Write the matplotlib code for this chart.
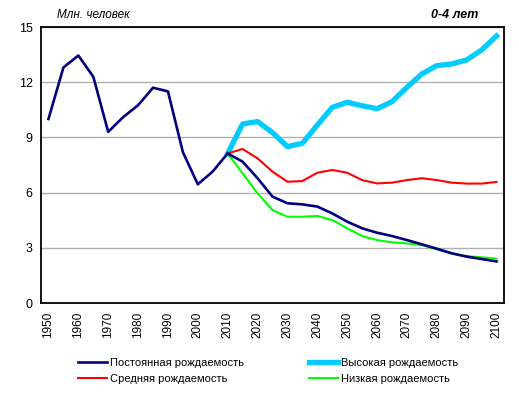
import numpy as np
import matplotlib
matplotlib.use("Agg")
import matplotlib.pyplot as plt

plt.rcParams['font.family'] = ['Liberation Sans', 'DejaVu Sans']

# годы
years_hist = list(range(1950, 2011, 5))
years_proj = list(range(2010, 2101, 5))

# млн. человек, 0-4 лет
hist = [10.0, 12.8, 13.45, 12.3, 9.3, 10.1, 10.75, 11.7, 11.5, 8.2, 6.45, 7.15, 8.13]
const = [8.13, 7.68, 6.78, 5.78, 5.42, 5.36, 5.24, 4.87, 4.42, 4.06, 3.82, 3.64,
         3.42, 3.19, 2.95, 2.70, 2.52, 2.39, 2.26]
high = [8.13, 9.73, 9.86, 9.26, 8.50, 8.68, 9.67, 10.63, 10.91, 10.72, 10.56, 10.94,
        11.72, 12.45, 12.90, 12.99, 13.21, 13.75, 14.51]
medium = [8.13, 8.37, 7.86, 7.14, 6.59, 6.63, 7.08, 7.23, 7.08, 6.68, 6.50, 6.54,
          6.68, 6.78, 6.68, 6.54, 6.49, 6.49, 6.58]
low = [8.13, 7.05, 5.96, 5.05, 4.69, 4.69, 4.73, 4.51, 4.06, 3.64, 3.42, 3.30,
       3.24, 3.15, 2.92, 2.70, 2.55, 2.48, 2.41]

xticks = list(range(1950, 2101, 10))
yticks = [0, 3, 6, 9, 12, 15]

fig = plt.figure(figsize=(5.19, 3.94), dpi=100)
ax = fig.add_axes([41/519, 1 - 303/394, 463/519, 276/394])

ax.plot(years_hist, hist, color='#000080', lw=1.9, zorder=3)
l1, = ax.plot(years_proj, const, color='#000080', lw=1.9, zorder=3,
              label='Постоянная рождаемость')
l2, = ax.plot(years_proj, high, color='#00CCFF', lw=3.8, zorder=2,
              label='Высокая рождаемость')
l3, = ax.plot(years_proj, medium, color='#FF0000', lw=1.5, zorder=2,
              label='Средняя рождаемость')
l4, = ax.plot(years_proj, low, color='#00FF00', lw=1.5, zorder=2,
              label='Низкая рождаемость')

ax.set_xlim(1947.5, 2102.5)
ax.set_ylim(0, 15)
ax.set_xticks(xticks)
ax.set_xticklabels([str(x) for x in xticks], rotation=90, fontsize=8.5)
ax.set_yticks(yticks)
ax.set_yticklabels([str(y) for y in yticks], fontsize=9)
ax.tick_params(length=0, pad=6)
ax.yaxis.grid(True, color='#b0b0b0', lw=1)
ax.set_axisbelow(True)
for s in ax.spines.values():
    s.set_color('black')
    s.set_linewidth(1.3)

fig.text(57/519, 1 - 15/394, 'Млн. человек', fontsize=8.5, style='italic',
         va='center', ha='left')
fig.text(478/519, 1 - 15/394, '0-4 лет', fontsize=9, style='italic',
         weight='bold', va='center', ha='right')

fig.legend(handles=[l1, l3, l2, l4], ncol=2, loc='center',
           bbox_to_anchor=(268/519, 1 - 371/394), frameon=False, fontsize=8,
           handlelength=2.6, handletextpad=0.3, columnspacing=5.8,
           labelspacing=0.5)

fig.savefig('out.png', dpi=100)
